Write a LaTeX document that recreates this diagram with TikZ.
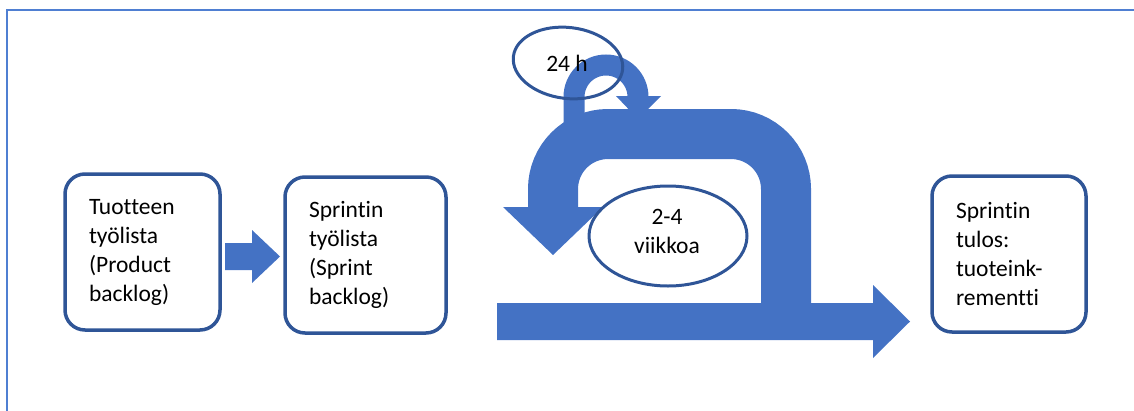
\documentclass[tikz,border=0pt]{standalone}
\usepackage{fontspec}
\setmainfont{Carlito}[Ligatures=NoCommon]
\usetikzlibrary{shapes.geometric}
\definecolor{arrowblue}{HTML}{4472C4}
\definecolor{edgeblue}{HTML}{2F5597}
\definecolor{frameblue}{HTML}{4F7FD2}

\begin{document}
\begin{tikzpicture}[x=1pt,y=-1pt,
  every node/.style={font=\fontsize{23.5}{29}\selectfont},
  card/.style={draw=edgeblue, line width=3.5pt, rounded corners=20pt, fill=white,
               minimum height=156pt, inner xsep=24pt, align=left},
  ring/.style={draw=edgeblue, line width=3pt, ellipse, inner sep=0pt},
  band/.style={draw=arrowblue, line cap=butt},
  block/.style={fill=arrowblue, draw=none},
  framebox/.style={draw=frameblue, line width=2.5pt}]

\useasboundingbox (0,0) rectangle (1134,410);

% outer frame (top and left edges)
\draw[framebox] (7,411) -- (7,10) -- (1134,10);

% daily loop (24 h)
\draw[band, line width=21pt] (574,125) -- (574,97) arc[start angle=180, end angle=0, radius=32pt];
\fill[block] (616,96) -- (661,96) -- (638,119) -- cycle;

% sprint loop (2-4 weeks)
\draw[band, line width=50pt, rounded corners=55pt] (786,320) -- (786,134) -- (553,134) -- (553,208);
\fill[block] (503,207) -- (603,207) -- (553,255) -- cycle;

% main flow towards the increment
\fill[block] (497,303) -- (873,303) -- (873,285) -- (910,321.5) -- (873,358) -- (873,340) -- (497,340) -- cycle;

% product backlog -> sprint backlog
\fill[block] (225,243) -- (252,243) -- (252,230) -- (280,256.5) -- (252,283) -- (252,270) -- (225,270) -- cycle;

% backlogs and result
\node[card, text width=107pt] (pb) at (142.5,252) {Tuotteen\\työlista\\(Product\\backlog)};
\node[card, text width=113pt] (sb) at (365.5,255) {Sprintin\\työlista\\(Sprint\\backlog)};
\node[card, text width=106pt] (inc) at (1009,254) {Sprintin\\tulos:\\tuoteink-\\rementti};

% cycle labels
\node[ring, minimum width=110pt, minimum height=71pt, rotate=-7] (dayring) at (568,63) {};
\node (day) at (567,63) {24 h};
\node[ring, fill=white, minimum width=158pt, minimum height=100pt] (weekring) at (668,236) {};
\node[align=center] (week) at (667,231) {2-4\\viikkoa};
\end{tikzpicture}
\end{document}
